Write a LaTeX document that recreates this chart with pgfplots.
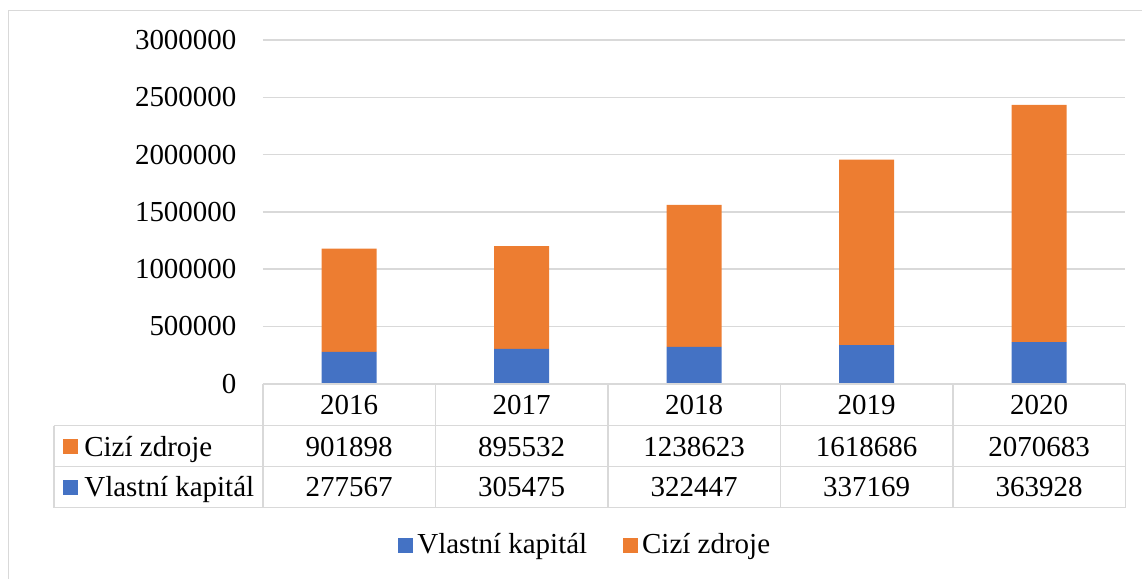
\documentclass[border=0pt]{standalone}
\usepackage{fontspec}
\setmainfont{Liberation Serif}
\usepackage{pgfplots}
\pgfplotsset{compat=1.18}
\definecolor{cblue}{HTML}{4472C4}
\definecolor{corange}{HTML}{ED7D31}
\definecolor{cgrid}{HTML}{D9D9D9}
\begin{document}
\fontsize{14.5bp}{17bp}\selectfont
\begin{tikzpicture}
\begin{scope}[x=0.5bp,y=-0.5bp]
\path[use as bounding box] (0,0) rectangle (1143,579);
\end{scope}
\begin{axis}[
  at={(131.5bp,-192bp)}, anchor=south west,
  scale only axis, width=431.5bp, height=172bp,
  ybar stacked, bar width=27.5bp,
  xmin=-0.5, xmax=4.5, ymin=0, ymax=3000000,
  xtick=\empty,
  ytick={0,500000,1000000,1500000,2000000,2500000,3000000},
  ymajorgrids, grid style={cgrid, line width=0.75bp},
  axis line style={draw=none},
  major tick length=0pt,
  scaled y ticks=false,
  /pgf/number format/assume math mode=true,
  yticklabel={\pgfmathprintnumber[fixed,1000 sep={}]{\tick}},
  yticklabel style={font=\fontsize{14.5bp}{17bp}\selectfont, inner sep=0pt, anchor=east, xshift=-13bp},
  legend columns=2,
  legend style={at={(0.375,-0.471)}, anchor=center, draw=none, fill=none,
    font=\fontsize{14.5bp}{17bp}\selectfont,
    /tikz/every even column/.append style={column sep=16bp}},
  legend cell align=left,
  legend image code/.code={\fill[#1] (0bp,-3.75bp) rectangle (7.5bp,3.75bp);},
]
\addplot[fill=cblue, draw=none] coordinates {(0,277567) (1,305475) (2,322447) (3,337169) (4,363928)};
\addlegendentry{Vlastní kapitál}
\addplot[fill=corange, draw=none] coordinates {(0,901898) (1,895532) (2,1238623) (3,1618686) (4,2070683)};
\addlegendentry{Cizí zdroje}
\end{axis}
\begin{scope}[x=0.5bp,y=-0.5bp]
\draw[cgrid, line width=0.75bp] (8.5,579) -- (8.5,10.5) -- (1143,10.5);
\draw[cgrid, line width=0.75bp] (263,384) -- (1125.6,384);
\foreach \yy in {426,467,508} \draw[cgrid, line width=0.75bp] (54,\yy) -- (1125.6,\yy);
\draw[cgrid, line width=0.75bp] (54,426) -- (54,508);
\foreach \k in {0,...,5} \draw[cgrid, line width=0.75bp] ({263+172.6*\k},384) -- ({263+172.6*\k},508);
\foreach \k/\yr in {0/2016,1/2017,2/2018,3/2019,4/2020}
  \node[anchor=base, inner sep=0pt] at ({263+172.6*(\k+0.5)},415) {\yr};
\foreach \k/\v in {0/901898,1/895532,2/1238623,3/1618686,4/2070683}
  \node[anchor=base, inner sep=0pt] at ({263+172.6*(\k+0.5)},456.7) {\v};
\foreach \k/\v in {0/277567,1/305475,2/322447,3/337169,4/363928}
  \node[anchor=base, inner sep=0pt] at ({263+172.6*(\k+0.5)},496.7) {\v};
\fill[corange] (63,439) rectangle (78,454);
\fill[cblue] (63,480) rectangle (78,495);
\node[anchor=base west, inner sep=0pt] at (84,456.7) {Cizí zdroje};
\node[anchor=base west, inner sep=0pt] at (84,496.7) {Vlastní kapitál};
\end{scope}
\end{tikzpicture}
\end{document}
